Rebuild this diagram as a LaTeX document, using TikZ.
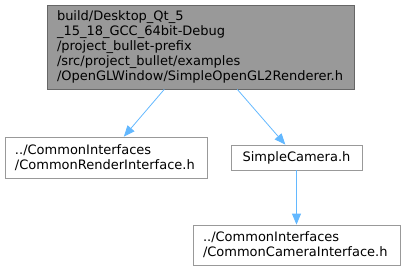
\documentclass[tikz,border=0pt]{standalone}
\usepackage{fontspec}
\setmainfont{DejaVu Sans}
\usepackage{tikz}
\usetikzlibrary{arrows.meta}
\definecolor{edgeblue}{HTML}{63B8FF}
\definecolor{topfill}{HTML}{999999}
\definecolor{topline}{HTML}{666666}
\definecolor{boxline}{HTML}{999999}

\begin{document}
\begin{tikzpicture}[x=1pt,y=-1pt,
    file/.style={draw=boxline,line width=0.8pt,inner xsep=10pt,inner ysep=0pt,
      font=\fontsize{13}{14.8}\selectfont},
    cur/.style={file,draw=topline,fill=topfill},
    dep/.style={-{Triangle[length=11pt,width=9pt]},edgeblue,line width=0.8pt}]
  \useasboundingbox (0,0) rectangle (405,271);
  \node[cur,text width=287pt,align=left,minimum height=84pt] (m-1) at (200.5,47)
    {build/Desktop\_Qt\_5\\\_15\_18\_GCC\_64bit-Debug\\/project\_bullet-prefix\\/src/project\_bullet/examples\\/OpenGLWindow/SimpleOpenGL2Renderer.h};
  \node[file,text width=182pt,align=left,minimum height=41pt] (m-2-1) at (106,157.5)
    {../CommonInterfaces\\/CommonRenderInterface.h};
  \node[file,minimum width=131pt,minimum height=25pt] (m-2-2) at (296.5,157.5)
    {SimpleCamera.h};
  \node[file,text width=187pt,align=left,minimum height=40pt] (m-3-2) at (296.5,245)
    {../CommonInterfaces\\/CommonCameraInterface.h};

  \path[dep]
    (m-1) edge (m-2-1)
    (m-1) edge (m-2-2)
    (m-2-2) edge (m-3-2);
\end{tikzpicture}
\end{document}
